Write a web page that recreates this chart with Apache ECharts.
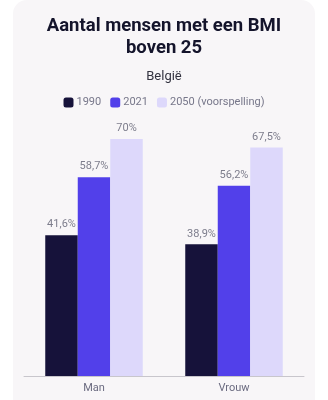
<!DOCTYPE html>
<html><head><meta charset="utf-8">
<script src="https://cdn.jsdelivr.net/npm/echarts@6/dist/echarts.min.js"></script>
<style>html,body{margin:0;padding:0;background:#fff;}#c{width:328px;height:400px;}</style>
</head><body><div id="c"></div>
<script>
const categories = ['Man', 'Vrouw'];
const seriesNames = ['1990', '2021', '2050 (voorspelling)'];
const values1990 = [41.6, 38.9];
const values2021 = [58.7, 56.2];
const values2050 = [70, 67.5];
const colors = ['#16123a', '#5240ea', '#ddd8fb'];
const fmt = v => String(v).replace('.', ',') + '%';

const chart = echarts.init(document.getElementById('c'), null, {renderer: 'canvas'});
const font = 'Roboto, "Noto Sans", sans-serif';
const mk = (name, data, i) => ({
  name, type: 'bar', data, barWidth: 32.5, barGap: '0%',
  itemStyle: {color: colors[i]},
  label: {show: true, position: 'top', distance: 5, color: '#7d7d8c', fontSize: 11, fontFamily: font,
    formatter: p => fmt(p.value)}
});
chart.setOption({
  animation: false,
  graphic: [{type: 'rect', z: -10, shape: {x: 13, y: 0, width: 302, height: 420, r: 14}, style: {fill: '#f8f6f8'}}],
  title: [
    {text: 'Aantal mensen met een BMI\nboven 25', left: 'center', top: 10,
     textStyle: {fontFamily: font, fontSize: 18.5, fontWeight: 'bold', color: '#14142b', lineHeight: 22}},
    {text: 'België', left: 'center', top: 65,
     textStyle: {fontFamily: font, fontSize: 13, fontWeight: 'normal', color: '#333340'}}
  ],
  legend: {top: 92, left: 'center', itemWidth: 10, itemHeight: 10, itemGap: 9, icon: 'roundRect',
    textStyle: {fontFamily: font, fontSize: 11, color: '#77778a', padding: [0, 0, 0, -2]},
    data: seriesNames},
  grid: {left: 24, right: 24, top: 37.4, bottom: 24, containLabel: false},
  xAxis: {type: 'category', data: categories,
    axisLine: {lineStyle: {color: '#c8c6cc'}}, axisTick: {show: false},
    axisLabel: {color: '#6b6b80', fontSize: 11, fontFamily: font, margin: 7}},
  yAxis: {type: 'value', min: 0, max: 100, show: false, splitLine: {show: false}},
  series: [mk(seriesNames[0], values1990, 0), mk(seriesNames[1], values2021, 1), mk(seriesNames[2], values2050, 2)]
});
</script></body></html>
